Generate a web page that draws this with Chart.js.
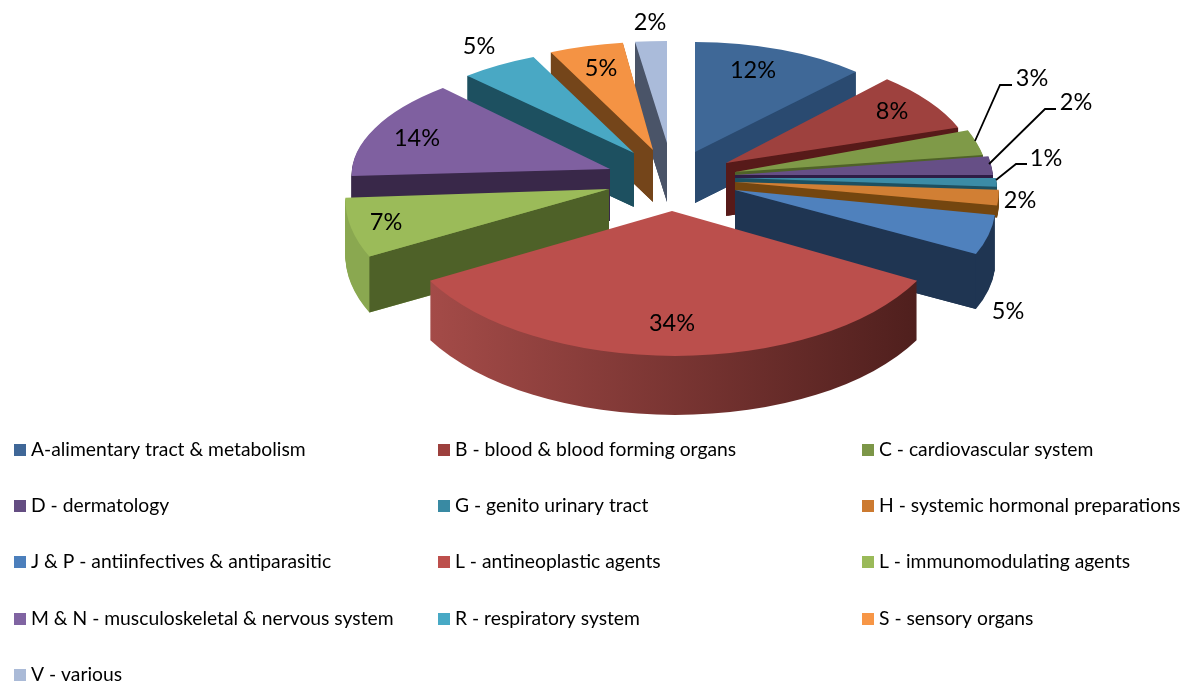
<!DOCTYPE html>
<html>
<head>
<meta charset="utf-8">
<style>html,body{margin:0;padding:0;background:#fff;overflow:hidden}canvas{display:block}</style>
<script src="https://cdn.jsdelivr.net/npm/chart.js@4/dist/chart.umd.min.js"></script>
</head>
<body>
<canvas id="c" width="1182" height="682"></canvas>
<script>
const categories = [
  "A-alimentary tract & metabolism","B - blood & blood forming organs","C - cardiovascular system",
  "D - dermatology","G - genito urinary tract","H - systemic hormonal preparations",
  "J & P - antiinfectives & antiparasitic","L - antineoplastic agents","L - immunomodulating agents",
  "M & N - musculoskeletal & nervous system","R - respiratory system","S - sensory organs","V - various"
];
const shares = [12,8,3,2,1,2,5,34,7,14,5,5,2];
const topColors = ["#3f6897","#9e413e","#7f9a48","#664f86","#3c8ca6","#d17f34","#4f81bd","#bb4f4c","#9bbb59","#7f60a0","#49a8c4","#f49344","#aabbda"];
const legendColors = ["#3f6797","#9c403d","#7c9647","#644d82","#398aa3","#cc7a30","#4c7fbc","#bd4f4c","#9aba59","#8064a2","#48a9c5","#f79646","#aabad7"];
const radialWall = ["#2a4a70","#571a19","#4f6228","#2e1d45","#1d5060","#74460f","#1f3552","#5a2422","#4e6128","#392849","#1d5060","#74451a","#4a5468"];
const outerWallFrom = ["#2a4a70","#571a19","#4f6228","#2e1d45","#1d5060","#74460f","#20395a","#a44b48","#8aa850","#392849","#1d5060","#74451a","#4a5468"];
const outerWallTo   = ["#2a4a70","#571a19","#4f6228","#2e1d45","#1d5060","#74460f","#1f3552","#4f1f1d","#7f9d48","#392849","#1d5060","#74451a","#4a5468"];
// per-slice 3D projection: apex x, apex y, radius x, radius y, depth, perspective skew
const projection = [
  [695,152,235,110,51,0],[726,163,248,115,53,-12],[735,172,253,135,12,-25],[735,175,258,150,12,-20],
  [735,178,261,140,12,-20],[735,182,263,125,12,-20],[735,190,259,133,55,-29],[672,211,278,145,59,-3],
  [609,189,263,140,56,19],[610,169,258,111,52,13],[634,153,251,106,54,7],[653,150,240,108,52,0],[667,143,255,102,59,0]
];
const paintOrder = [0,1,2,3,4,5,6,12,11,10,9,8,7];
// label anchors (centre x, centre y)
const labelAt = [[753,70],[892,111],[1032,78],[1076,102],[1046,158],[1020,200],[1008,311],[672,323],[386,222],[417,138],[479,46],[601,68],[650,22]];
const leaders = [null,null,[[975,141],[1000,85],[1012,85]],[[989,164],[1045,109],[1056,109]],[[996,180],[1016,164],[1027,164]]];
const legendCols = [14,438,862], legendRows = [450,506,562,619,675];
const FONT = "Lato, Carlito, sans-serif";

const pie3d = {
  id:"pie3d",
  beforeDatasetsDraw(chart){
    const ctx = chart.ctx, arcs = chart.getDatasetMeta(0).data;
    paintOrder.forEach(i=>{
      const arc = arcs[i], [ax,ay,rx,ry,depth,skew] = projection[i], R = arc.outerRadius, base = arc.options;
      const place = dy=>{ctx.translate(0,dy);ctx.transform(rx/R,0,-skew/R,ry/R,ax,ay);ctx.translate(-arc.x,-arc.y);};
      const grad = ctx.createLinearGradient(arc.x-R*0.88,0,arc.x+R*0.88,0);
      grad.addColorStop(0,outerWallFrom[i]);grad.addColorStop(1,outerWallTo[i]);
      arc.options = Object.assign({},base,{backgroundColor:grad,borderWidth:0});
      for(let d=depth;d>=1;d--){ctx.save();place(d);arc.draw(ctx);ctx.restore();}
      // flat radial wall on whichever straight edge faces the viewer
      const wallAngles=[];
      const thetaS=arc.startAngle+Math.PI/2, thetaE=arc.endAngle+Math.PI/2;
      if(Math.sin(thetaE)>0) wallAngles.push(arc.endAngle);
      if(Math.sin(thetaS)<0) wallAngles.push(arc.startAngle);
      wallAngles.forEach(a=>{
        const x=ax+rx*Math.cos(a)-skew*Math.sin(a), y=ay+ry*Math.sin(a);
        ctx.fillStyle=radialWall[i];
        ctx.beginPath();ctx.moveTo(ax,ay);ctx.lineTo(x,y);ctx.lineTo(x,y+depth);ctx.lineTo(ax,ay+depth);ctx.closePath();ctx.fill();
      });
      arc.options = Object.assign({},base,{backgroundColor:topColors[i],borderWidth:0});
      ctx.save();place(0);arc.draw(ctx);ctx.restore();
      arc.options = base;
    });
    return false;
  },
  afterDraw(chart){
    const ctx = chart.ctx;
    ctx.save();
    ctx.strokeStyle="#000";ctx.lineWidth=1.8;ctx.lineJoin="miter";
    leaders.forEach(l=>{ if(!l) return; ctx.beginPath();l.forEach((p,k)=>k?ctx.lineTo(p[0],p[1]):ctx.moveTo(p[0],p[1]));ctx.stroke();});
    ctx.fillStyle="#000";ctx.textAlign="center";ctx.textBaseline="middle";
    ctx.font="23.5px "+FONT;
    shares.forEach((v,i)=>ctx.fillText(v+"%",labelAt[i][0],labelAt[i][1]));
    ctx.textAlign="left";ctx.font="19.3px "+FONT;
    categories.forEach((t,i)=>{
      const x=legendCols[i%3], y=legendRows[Math.floor(i/3)];
      ctx.fillStyle=legendColors[i];ctx.fillRect(x,y-6,12,12);
      ctx.fillStyle="#000";ctx.fillText(t,x+17,y);
    });
    ctx.restore();
  }
};

new Chart(document.getElementById("c"),{
  type:"pie",
  data:{labels:categories,datasets:[{data:shares,backgroundColor:topColors,borderWidth:0}]},
  options:{
    responsive:false,animation:false,radius:200,rotation:0,
    layout:{padding:0},
    plugins:{legend:{display:false},tooltip:{enabled:false}}
  },
  plugins:[pie3d]
});
</script>
</body>
</html>
